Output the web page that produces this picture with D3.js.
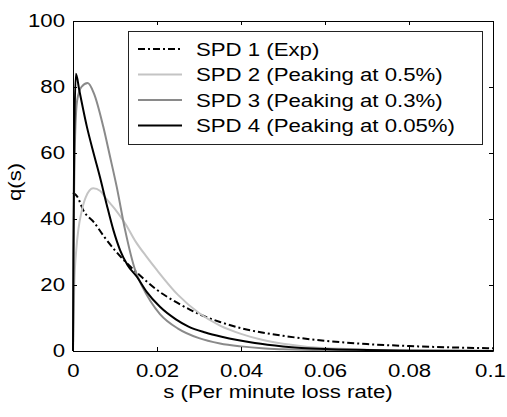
<!DOCTYPE html>
<html lang="en">
<head>
<meta charset="UTF-8">
<title>q(s)</title>
<script src="https://cdn.jsdelivr.net/npm/d3@7"></script>
<style>
    body { margin: 0; background: #fff; }
    svg text { font-family: "Liberation Sans", Arial, sans-serif; }
</style>
</head>
<body>
<div id="chart"></div>
<script>
    // tick values
    const xTicks = [0, 0.02, 0.04, 0.06, 0.08, 0.1];
    const yTicks = [0, 20, 40, 60, 80, 100];

    const seriesNames = ["SPD 1 (Exp)", "SPD 2 (Peaking at 0.5%)", "SPD 3 (Peaking at 0.3%)", "SPD 4 (Peaking at 0.05%)"];

    // values: s (loss rate) and q(s)
    const spd1S = [0, 0.001, 0.0025, 0.005, 0.0075, 0.01, 0.0125, 0.015, 0.02, 0.025, 0.03, 0.035, 0.04, 0.045, 0.05, 0.06, 0.07, 0.08, 0.09, 0.1];
    const spd1Q = [48, 46.8, 42.5, 39, 34.5, 30.5, 27, 24, 18.5, 14.5, 11.2, 8.8, 6.9, 5.6, 4.6, 3.1, 2.1, 1.5, 1.1, 0.8];

    const spd2S = [0, 0.0003, 0.0008, 0.0013, 0.002, 0.003, 0.0048, 0.0065, 0.008, 0.01, 0.0125, 0.015, 0.0175, 0.02, 0.025, 0.03, 0.035, 0.04, 0.045, 0.05, 0.055, 0.06, 0.07, 0.08, 0.1];
    const spd2Q = [0, 20, 31, 37, 42, 46.5, 49.3, 48.5, 46, 43, 38.5, 33, 28.6, 24.5, 17, 11.5, 7.7, 5.2, 3.4, 2.2, 1.4, 0.9, 0.4, 0.2, 0.05];

    const spd3S = [0, 0.0002, 0.0005, 0.001, 0.002, 0.0035, 0.005, 0.0072, 0.0088, 0.0104, 0.0124, 0.0148, 0.0165, 0.0185, 0.0207, 0.025, 0.03, 0.035, 0.04, 0.045, 0.05, 0.06, 0.08, 0.1];
    const spd3Q = [0, 40, 65, 76, 80, 81.2, 78, 68, 59, 49.8, 36.7, 24.5, 19.5, 15, 11.2, 6.8, 3.9, 2.3, 1.4, 0.8, 0.5, 0.2, 0.05, 0];

    const spd4S = [0, 0.0001, 0.0003, 0.0007, 0.0015, 0.0033, 0.005, 0.0064, 0.008, 0.0096, 0.0112, 0.013, 0.0152, 0.0175, 0.0207, 0.0245, 0.0275, 0.0315, 0.0354, 0.0433, 0.05, 0.06, 0.07, 0.08, 0.1];
    const spd4Q = [0, 30, 65, 84, 79, 68, 59.5, 52.8, 44.5, 36.7, 30.6, 26, 22.5, 18, 13.4, 9.6, 7.4, 5.6, 4.3, 2.4, 1.4, 0.6, 0.3, 0.1, 0];

    const zip = (s, q) => s.map((v, i) => ({ s: v, q: q[i] }));
    const series = [
        { name: seriesNames[0], data: zip(spd1S, spd1Q), color: "#000", dash: "7,3,2,3" },
        { name: seriesNames[1], data: zip(spd2S, spd2Q), color: "#c4c4c4", dash: null },
        { name: seriesNames[2], data: zip(spd3S, spd3Q), color: "#8a8a8a", dash: null },
        { name: seriesNames[3], data: zip(spd4S, spd4Q), color: "#000", dash: null }
    ];

    const margin = { top: 21, right: 14, bottom: 66, left: 73 };
    const width = 507 - margin.left - margin.right;   // 420
    const height = 417 - margin.top - margin.bottom;  // 330
    const fontSize = 18.5;
    const stretch = 1.2; // the original font is wider than Arial

    const svg = d3.select("#chart")
        .append("svg")
        .attr("width", 507)
        .attr("height", 417)
        .append("g")
        .attr("transform", "translate(" + margin.left + "," + margin.top + ")");

    const xScale = d3.scaleLinear().domain([0, 0.1]).range([0, width]);
    const yScale = d3.scaleLinear().domain([0, 100]).range([height, 0]);

    // curves first, axes box on top
    const lineGen = d3.line()
        .x(d => xScale(d.s))
        .y(d => yScale(d.q))
        .curve(d3.curveMonotoneX);

    series.forEach(sr => {
        svg.append("path")
            .datum(sr.data)
            .attr("fill", "none")
            .attr("stroke", sr.color)
            .attr("stroke-width", 2)
            .attr("stroke-dasharray", sr.dash)
            .attr("d", lineGen);
    });

    function styleAxis(g) {
        g.attr("font-size", fontSize)
            .attr("font-family", '"Liberation Sans", Arial, sans-serif');
        g.selectAll("path, line").attr("stroke", "#000");
        g.selectAll("text").attr("fill", "#000");
    }

    const fmt = d => d === 0 ? "0" : d3.format("~g")(d);

    const xAxis = svg.append("g")
        .attr("transform", "translate(0," + height + ")")
        .call(d3.axisBottom(xScale).tickValues(xTicks).tickFormat(fmt).tickSize(-4).tickSizeOuter(0).tickPadding(13))
        .call(styleAxis);
    xAxis.selectAll("text")
        .attr("x", d => d === 0.1 ? -3 / stretch : 0)
        .attr("transform", "scale(" + stretch + ",1)");

    const yAxis = svg.append("g")
        .call(d3.axisLeft(yScale).tickValues(yTicks).tickSize(-4).tickSizeOuter(0))
        .call(styleAxis);
    yAxis.selectAll("text")
        .attr("x", -8 / stretch)
        .attr("transform", "scale(" + stretch + ",1)");

    svg.append("g")
        .call(d3.axisTop(xScale).tickValues(xTicks).tickFormat("").tickSize(-4).tickSizeOuter(0))
        .call(styleAxis);

    svg.append("g")
        .attr("transform", "translate(" + width + ",0)")
        .call(d3.axisRight(yScale).tickValues(yTicks).tickFormat("").tickSize(-4).tickSizeOuter(0))
        .call(styleAxis);

    // axis titles
    svg.append("text")
        .attr("transform", "translate(" + (width / 2 - 5) + "," + (height + 47) + ") scale(" + stretch + ",1)")
        .attr("text-anchor", "middle")
        .attr("font-size", fontSize)
        .text("s (Per minute loss rate)");

    svg.append("text")
        .attr("transform", "translate(" + (21 - margin.left) + "," + (height / 2 - 4) + ") rotate(-90) scale(" + stretch + ",1)")
        .attr("text-anchor", "middle")
        .attr("font-size", fontSize)
        .text("q(s)");

    // legend
    const legend = svg.append("g")
        .attr("transform", "translate(" + (128 - margin.left) + "," + (31 - margin.top) + ")");

    legend.append("rect")
        .attr("x", 0.5)
        .attr("y", 0.5)
        .attr("width", 354)
        .attr("height", 113)
        .attr("fill", "#fff")
        .attr("stroke", "#222")
        .attr("stroke-width", 1);

    series.forEach((sr, i) => {
        const cy = 18 + i * 25.5;
        legend.append("line")
            .attr("x1", 10)
            .attr("x2", 54)
            .attr("y1", cy)
            .attr("y2", cy)
            .attr("stroke", sr.color)
            .attr("stroke-width", 2)
            .attr("stroke-dasharray", sr.dash);
        legend.append("text")
            .attr("transform", "translate(68," + (cy + 6.7) + ") scale(" + stretch + ",1)")
            .attr("font-size", fontSize)
            .text(sr.name);
    });
</script>
</body>
</html>
